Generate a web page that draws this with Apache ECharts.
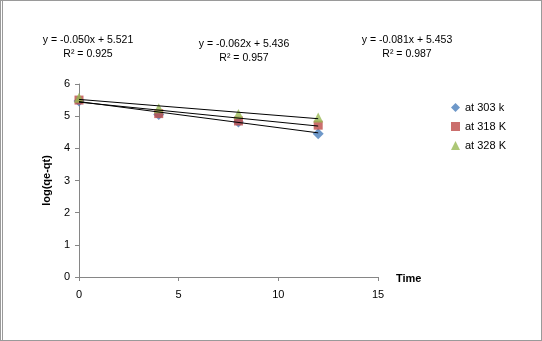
<!DOCTYPE html>
<html><head><meta charset="utf-8">
<script src="https://cdn.jsdelivr.net/npm/echarts@6/dist/echarts.min.js"></script>
<style>
html,body{margin:0;padding:0;background:#fff;}
#wrap{position:absolute;left:0;top:0;width:542px;height:341px;box-sizing:border-box;border:1px solid #9a9a9a;border-left:3px double #9a9a9a;}
#c{position:absolute;left:0;top:0;width:542px;height:341px;}
</style></head>
<body>
<div id="wrap"></div>
<div id="c"></div>
<script>
const time = [0, 4, 8, 12];
const s303 = [5.47, 5.05, 4.82, 4.45];
const s318 = [5.50, 5.08, 4.85, 4.72];
const s328 = [5.57, 5.25, 5.07, 4.96];
const seriesNames = ['at 303 k', 'at 318 K', 'at 328 K'];
// trendline equations as printed on the chart (328K, 318K, 303K order on page)
const eqSlopes = [-0.050, -0.062, -0.081];
const eqIntercepts = [5.521, 5.436, 5.453];
const eqTexts = ['y = -0.050x + 5.521', 'y = -0.062x + 5.436', 'y = -0.081x + 5.453'];
const r2Texts = ['R\u00b2 = 0.925', 'R\u00b2 = 0.957', 'R\u00b2 = 0.987'];
const xTicks = [0, 5, 10, 15];
const yTicks = [0, 1, 2, 3, 4, 5, 6];
const trendX = [0, 12];

const FONT = 'Liberation Sans';
const chart = echarts.init(document.getElementById('c'), null, {renderer: 'canvas'});
function pts(arr){ return time.map((t,i)=>[t, arr[i]]); }
function trend(k){ return trendX.map(x=>[x, +(eqIntercepts[k] + eqSlopes[k]*x).toFixed(4)]); }
const eqPos = [[88,40,54],[244,44,58],[407,40,54]];
const gr = [];
eqTexts.forEach((t,i)=>{
  gr.push({type:'text', x:eqPos[i][0], y:eqPos[i][1], style:{text:t, fill:'#000', font:'10.5px '+FONT, textAlign:'center', textVerticalAlign:'middle'}});
  gr.push({type:'text', x:eqPos[i][0], y:eqPos[i][2], style:{text:r2Texts[i], fill:'#000', font:'10.5px '+FONT, textAlign:'center', textVerticalAlign:'middle'}});
});
chart.setOption({
  animation:false,
  textStyle:{fontFamily:FONT},
  grid:{left:79, top:84, width:299, height:193},
  legend:{
    data:seriesNames, orient:'vertical', left:446, top:97, itemWidth:9, itemHeight:9, itemGap:8,
    textStyle:{fontSize:11, color:'#000', fontFamily:FONT}
  },
  xAxis:{
    type:'value', min:0, max:15, interval:5,
    name:'Time', nameLocation:'end', nameGap:18,
    nameTextStyle:{fontWeight:'bold', fontSize:11, color:'#000', verticalAlign:'top', padding:[-4,0,0,0]},
    axisLine:{lineStyle:{color:'#868686', width:1}},
    axisTick:{show:true, length:4, lineStyle:{color:'#868686'}},
    axisLabel:{color:'#000', fontSize:11, margin:12},
    splitLine:{show:false}
  },
  yAxis:{
    type:'value', min:0, max:6, interval:1,
    name:'log(qe-qt)', nameLocation:'middle', nameGap:27, nameRotate:90,
    nameTextStyle:{fontWeight:'bold', fontSize:11, color:'#000'},
    axisLine:{show:true, lineStyle:{color:'#868686', width:1}},
    axisTick:{show:true, length:4, lineStyle:{color:'#868686'}},
    axisLabel:{color:'#000', fontSize:11, margin:9},
    splitLine:{show:false}
  },
  graphic: gr,
  series:[
    {name:seriesNames[0], type:'scatter', data:pts(s303), symbol:'diamond', symbolSize:11, itemStyle:{color:'#4a7ebb'}, z:2},
    {name:seriesNames[1], type:'scatter', data:pts(s318), symbol:'rect', symbolSize:9, itemStyle:{color:'#be4b48'}, z:3},
    {name:seriesNames[2], type:'scatter', data:pts(s328), symbol:'triangle', symbolSize:10, itemStyle:{color:'#98b954'}, z:4},
    {name:'trend328', type:'line', data:trend(0), symbol:'none', lineStyle:{color:'#000', width:1}, z:5, silent:true},
    {name:'trend318', type:'line', data:trend(1), symbol:'none', lineStyle:{color:'#000', width:1}, z:5, silent:true},
    {name:'trend303', type:'line', data:trend(2), symbol:'none', lineStyle:{color:'#000', width:1}, z:5, silent:true}
  ]
});
</script>
</body></html>
